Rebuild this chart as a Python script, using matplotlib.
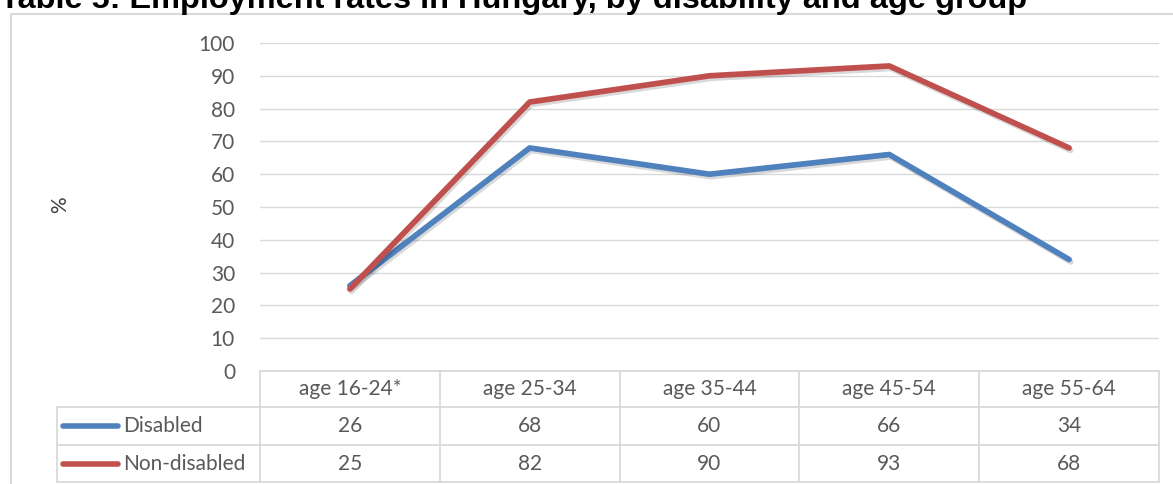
import matplotlib
matplotlib.use('Agg')
import matplotlib.pyplot as plt
import matplotlib.patheffects as pe
from matplotlib.transforms import blended_transform_factory
from matplotlib.patches import Rectangle

# data
age_groups = ['age 16-24*', 'age 25-34', 'age 35-44', 'age 45-54', 'age 55-64']
disabled = [26, 68, 60, 66, 34]
non_disabled = [25, 82, 90, 93, 68]
series_names = ['Disabled', 'Non-disabled']
series_colors = ['#4F81BD', '#C0504D']
title = 'Table 5: Employment rates in Hungary, by disability and age group'

W, H = 1173, 484
fig = plt.figure(figsize=(W / 100, H / 100), dpi=100)

def fy(py):
    # pixel from top -> figure fraction
    return (H - py) / H

grey_txt = '#595959'
grid_col = '#D9D9D9'
font = ['Lato', 'DejaVu Sans']
fs = 15

# outer chart frame (runs off the right and bottom edges)
fig.patches.append(Rectangle((11 / W, -0.2), 1.2, fy(13.5) + 0.2, transform=fig.transFigure,
                             fill=False, edgecolor=grid_col, lw=1.5, zorder=0))

fig.text(0.0, fy(8), title, fontsize=23.4, fontweight='bold', family='Liberation Sans',
         ha='left', va='baseline', color='black', zorder=5)

ax = fig.add_axes([260 / W, fy(371), (1159 - 260) / W, (371 - 43) / H])
ax.patch.set_alpha(0)
x = list(range(len(age_groups)))
shadow = [pe.SimpleLineShadow(offset=(1.2, -1.8), alpha=0.15, shadow_color='black'), pe.Normal()]
for vals, c in zip([disabled, non_disabled], series_colors):
    ax.plot(x, vals, color=c, lw=4.1, solid_capstyle='round', solid_joinstyle='round',
            path_effects=shadow, zorder=3)

ax.set_xlim(-0.5, len(age_groups) - 0.5)
ax.set_ylim(0, 100)
ax.set_yticks(range(0, 101, 10))
ax.set_xticks([])
ax.yaxis.grid(True, color=grid_col, lw=1.0)
ax.set_axisbelow(True)
ax.tick_params(axis='y', length=0, pad=18, labelsize=fs, labelcolor=grey_txt)
for lab in ax.get_yticklabels():
    lab.set_family(font)
for s in ax.spines.values():
    s.set_visible(False)

fig.text(60 / W, fy(205), '%', rotation=90, fontsize=fs, family=font, color='#404040',
         ha='center', va='center')

# data table under the plot
tr = blended_transform_factory(ax.transData, fig.transFigure)
n = len(age_groups)
px = (1159 - 260) / n
left_edge = -0.5 - (260 - 57) / px
rows_y = [371, 407, 445, 482]
lk = dict(transform=tr, color=grid_col, lw=1.3, clip_on=False)
ax.plot([-0.5, n - 0.5], [fy(rows_y[0])] * 2, **lk)
for yy in rows_y[1:]:
    ax.plot([left_edge, n - 0.5], [fy(yy)] * 2, **lk)
for i in range(n + 1):
    ax.plot([i - 0.5] * 2, [fy(371), fy(482)], **lk)
ax.plot([left_edge] * 2, [fy(407), fy(482)], **lk)

for i, g in enumerate(age_groups):
    ax.text(i, fy(389), g, transform=tr, ha='center', va='center', fontsize=fs,
            family=font, color=grey_txt, clip_on=False)

for r, (name, vals, c) in enumerate(zip(series_names, [disabled, non_disabled], series_colors)):
    yc = fy((rows_y[r + 1] + rows_y[r + 2]) / 2)
    ax.plot([left_edge + 6 / px, left_edge + 61 / px], [yc, yc], transform=tr, color=c,
            lw=4, solid_capstyle='round', clip_on=False)
    ax.text(left_edge + 66 / px, yc, name, transform=tr, ha='left', va='center', fontsize=fs,
            family=font, color=grey_txt, clip_on=False)
    for i, v in enumerate(vals):
        ax.text(i, yc, str(v), transform=tr, ha='center', va='center', fontsize=fs,
                family=font, color=grey_txt, clip_on=False)

fig.savefig('out.png', dpi=100)
